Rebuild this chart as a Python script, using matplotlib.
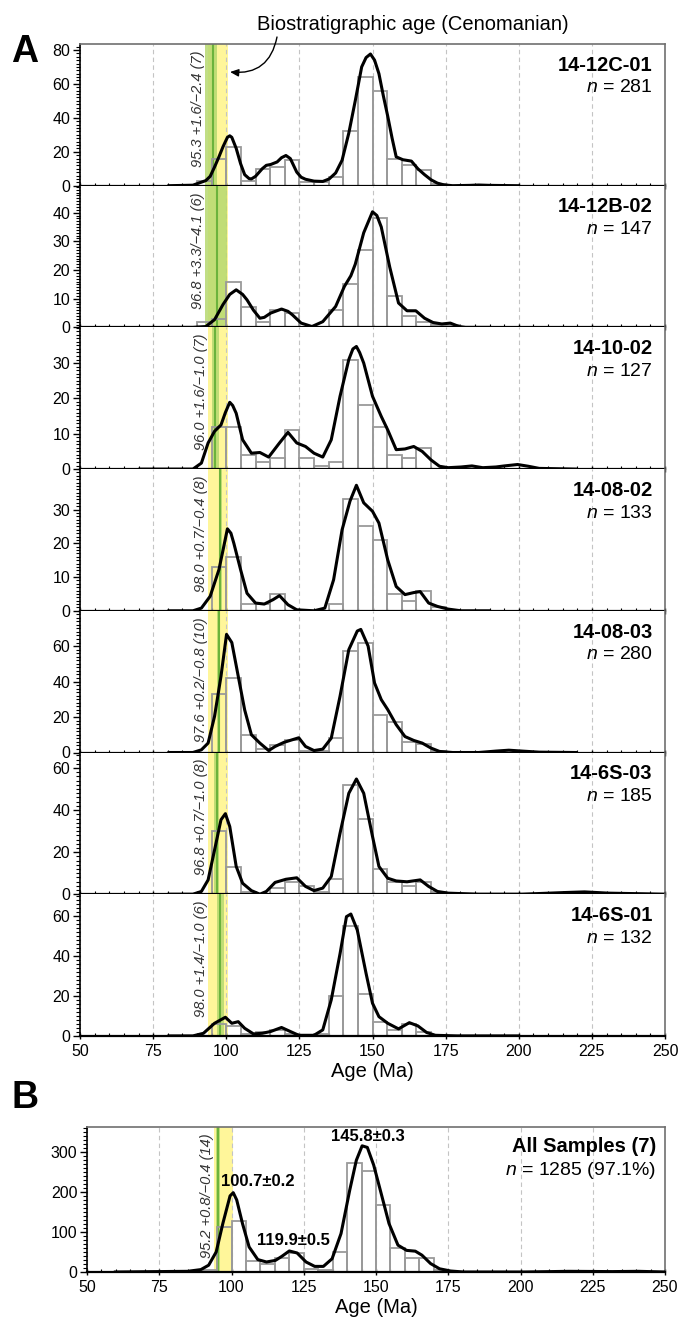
import numpy as np
import matplotlib.pyplot as plt
import matplotlib.transforms as mtransforms
from matplotlib.ticker import MultipleLocator

plt.rcParams['font.family'] = ['Liberation Sans', 'DejaVu Sans']
plt.rcParams['mathtext.fontset'] = 'custom'
plt.rcParams['mathtext.it'] = 'Liberation Sans:italic'
plt.rcParams['mathtext.rm'] = 'Liberation Sans'

# samples, panel A (top to bottom)
samples = ['14-12C-01', '14-12B-02', '14-10-02', '14-08-02', '14-08-03', '14-6S-03', '14-6S-01']
n_grains = [281, 147, 127, 133, 280, 185, 132]

# maximum depositional ages: value, +err, -err, number of grains
mda = [95.3, 96.8, 96.0, 98.0, 97.6, 96.8, 98.0]
mda_plus = [1.6, 3.3, 1.6, 0.7, 0.2, 0.7, 1.4]
mda_minus = [2.4, 4.1, 1.0, 0.4, 0.8, 1.0, 1.0]
mda_count = [7, 6, 7, 8, 10, 8, 6]

# all samples (panel B)
all_n = 1285
all_pct = 97.1
all_mda, all_plus, all_minus, all_count = 95.2, 0.8, 0.4, 14
peak_ages = ['100.7±0.2', '119.9±0.5', '145.8±0.3']

# Cenomanian stage
ceno_lo, ceno_hi = 93.9, 100.5

# histogram bins (5 Ma), left edges 90 ... 175
bin_left = list(range(90, 180, 5))
counts_12c01 = [3, 16, 23, 3, 10, 11, 15, 2, 2, 5, 32, 64, 56, 16, 12, 9, 1, 0]
counts_12b02 = [2, 3, 16, 7, 2, 6, 5, 0, 0, 6, 15, 27, 38, 11, 4, 2, 1, 1]
counts_1002 = [0, 12, 12, 4, 2, 3, 11, 3, 1, 2, 31, 18, 12, 4, 3, 6, 0, 0]
counts_0802 = [0, 13, 16, 2, 2, 5, 0, 0, 0, 2, 33, 25, 21, 5, 3, 6, 1, 0]
counts_0803 = [0, 33, 42, 10, 2, 4, 7, 1, 1, 8, 57, 62, 21, 17, 6, 5, 1, 0]
counts_6s03 = [0, 30, 13, 1, 0, 3, 6, 4, 1, 7, 52, 36, 12, 6, 4, 6, 1, 0]
counts_6s01 = [0, 6, 5, 1, 2, 3, 1, 0, 1, 20, 55, 21, 7, 3, 6, 2, 0, 0]
counts_all = [5, 113, 127, 28, 21, 36, 47, 8, 4, 50, 272, 252, 167, 61, 36, 36, 4, 0]

# KDE curves
age_12c01 = [80.4, 88.6, 93, 94.5, 96, 97.5, 98.9, 100.4, 101.2, 101.9, 103.4, 104.9, 106.3, 107.8,
             108.6, 110, 112.3, 113.7, 115.2, 117.4, 118.9, 120.4, 121.9, 124.1, 125.6, 127.1, 130,
             133, 135.2, 137.4, 139.6, 141.9, 144.1, 146.3, 147.8, 149.3, 150.7, 152.2, 153.7, 155.2,
             156.7, 158.1, 160.4, 163.3, 165.5, 167.8, 170, 172.2, 174.4, 177.4, 183.3, 186.3, 190, 199.6]
kde_12c01 = [0, 0.3, 3, 5.5, 11, 17, 23, 28.5, 29.4, 28.5, 22, 13, 6.5, 4.2,
             4, 5.5, 10, 12, 12.5, 14, 16.5, 17.8, 16, 8, 5, 3.8, 2.7,
             2.5, 4, 7.5, 15, 31, 50, 70, 75.5, 77.6, 74, 66, 53, 41,
             28, 17, 15.3, 14.5, 10, 6.5, 3.5, 1.5, 0.5, 0, 0.2, 0.4, 0.2, 0]

age_12b02 = [80.4, 88.6, 93, 96, 98.9, 101.2, 103.4, 105.6, 107.1, 109.3, 111.5, 113, 115.2, 118.9,
             121.1, 122.6, 125.6, 129.3, 133, 137.4, 140.4, 142.6, 144.1, 147, 150, 151.5, 153,
             155.9, 158.9, 161.8, 164.8, 167.8, 170.7, 173.7, 176.6, 179.6, 181.8, 190]
kde_12b02 = [0, 0, 0.3, 2.7, 8, 11.5, 13.1, 11.5, 9.6, 6, 3.2, 3.5, 5, 6.4,
             5.6, 4.4, 1.5, 0.3, 2, 7.3, 14.3, 18, 22, 33, 40.3, 39, 35,
             21, 8.5, 5.8, 5.8, 3.2, 1.7, 1.2, 1.5, 0.3, 0, 0]

age_1002 = [70.5, 88.6, 91.5, 93.8, 96, 98.2, 99.7, 101.2, 102.2, 103.4, 105.6, 108.6, 111.5, 114.5,
            118.2, 121.1, 124.1, 127.1, 130, 133, 135.9, 138.9, 141.9, 143.3, 144.5, 145.6, 147,
            150, 153, 155.2, 158.1, 161.1, 164.1, 167, 170, 172.9, 175.9, 180.3, 184, 187.7, 192.2,
            195.1, 199.6, 203.3, 207, 219.6]
kde_1002 = [0, 0, 1.7, 7.4, 10.7, 12.5, 16, 18.9, 18, 15.8, 8.3, 4.5, 4.7, 3.4,
            7.4, 10.4, 7.4, 6.4, 4.5, 3.4, 8.3, 20.6, 31, 34, 34.7, 33, 30,
            20.6, 14.9, 11.1, 5.5, 5.7, 6.4, 5, 2.6, 0.8, 0.4, 0.6, 0.9, 0.4, 0.6,
            0.9, 1.3, 0.8, 0.2, 0]

age_0802 = [80.4, 88.6, 91.5, 94.5, 97.5, 98.9, 100.4, 101.6, 102.6, 104.9, 107.1, 110, 113, 116,
            118.2, 121.1, 124.1, 130, 133.7, 136.7, 139.6, 142.3, 144.5, 147, 150, 152.2, 155.2,
            158.1, 161.1, 164.1, 166.3, 169.2, 172.2, 175.9, 180.3, 190]
kde_0802 = [0, 0, 0.8, 4.3, 12.2, 18, 24.3, 23, 20, 12.2, 5.2, 2.3, 2, 3.3,
            4.5, 1.8, 0.3, 0, 0.8, 9.2, 24, 32.5, 37.2, 32, 29.5, 26, 15.1,
            7.2, 4.8, 5.4, 5.7, 2.3, 1.3, 0.5, 0, 0]

age_0803 = [80.4, 88.6, 91.5, 93.8, 96, 98.2, 100.1, 101.9, 104.1, 106.3, 108.6, 111.5, 114.5, 116.7,
            119.7, 122.6, 124.8, 127.1, 130, 133, 135.9, 138.9, 141.9, 144.8, 146, 148.5, 150.7,
            153, 155.2, 158.1, 161.1, 164.1, 167, 170, 172.9, 177.4, 186.3, 192.2, 196.6, 201.1,
            207, 219.6]
kde_0803 = [0, 0, 1.5, 5.3, 20.4, 43, 66.6, 62, 43, 24, 10, 5.3, 1.1, 3.4,
            5.7, 7.2, 8.3, 3.4, 1.1, 1.9, 8.1, 31.7, 58, 68.5, 69.4, 60, 39.2,
            29.8, 24.2, 15.7, 9, 6.8, 5.3, 2.5, 0.6, 0, 0, 0.8, 1.3, 0.8,
            0.2, 0]

age_6s03 = [80.4, 88.6, 91.5, 93.8, 96, 98.2, 99.7, 101.2, 103.4, 105.6, 108.6, 111.5, 113.7, 116.7,
            120.4, 124.1, 127.1, 130, 133, 135.9, 138.9, 141.9, 144.5, 147, 150, 152.2, 155.2,
            158.1, 161.8, 166.3, 169.2, 172.2, 175.9, 186.3, 201.1, 215.9, 222.5, 230.7, 242.5, 249.6]
kde_6s03 = [0, 0, 1.3, 6.8, 21, 35.4, 38.3, 32.2, 13.2, 5.2, 1.7, 0, 1.3, 5.6,
            7.1, 7.8, 3.7, 1.7, 2.9, 8.4, 29, 48, 54.8, 48, 27.5, 13.2, 7.6,
            6.3, 5.9, 6.8, 3.7, 1.3, 0.5, 0, 0, 0.8, 1.1, 0.5, 0.2, 0]

age_6s01 = [80.4, 88.6, 92.2, 96, 99.7, 101.9, 104.1, 106.3, 109.3, 112.3, 115.2, 118.9, 121.9, 124.8,
            130, 133, 135.9, 138.9, 141.1, 142.6, 144.8, 147.8, 150, 152.2, 155.2, 158.9, 162.6,
            165.5, 168.5, 171.5, 178.9, 199.6]
kde_6s01 = [0, 0, 1.3, 6.3, 9.3, 6.3, 7.1, 3.8, 1, 1.3, 2.2, 4.2, 2.2, 0.3,
            0.3, 3, 18, 41, 59.5, 60.8, 52.8, 31.2, 16.3, 9.6, 6.3, 3.5, 6.6,
            5, 1.7, 0.3, 0, 0]

age_all = [59.8, 84.8, 89.4, 92.1, 94.7, 97, 99.5, 100.6, 101.8, 103.8, 106.1, 109.1, 112.1, 115.2,
           117.4, 120, 122.7, 125.8, 128.8, 131.8, 134.8, 137.9, 140.9, 143.2, 145.2, 147, 149.2,
           151.5, 154.5, 157.6, 160.6, 163.6, 165.9, 168.9, 172, 175.8, 180.3, 201.5, 216.7, 231.8,
           240.9, 250]
kde_all = [0, 1.7, 6, 17, 50, 121, 190, 198, 180, 121, 62.5, 31, 25, 29,
           39, 52.5, 47.5, 25, 14, 14, 33, 96, 204, 279, 315, 311, 267,
           204, 121, 67, 54, 52, 42, 21, 8, 2.5, 0, 0, 1.7, 1,
           1.7, 0]

counts = [counts_12c01, counts_12b02, counts_1002, counts_0802, counts_0803, counts_6s03, counts_6s01]
ages = [age_12c01, age_12b02, age_1002, age_0802, age_0803, age_6s03, age_6s01]
kdes = [kde_12c01, kde_12b02, kde_1002, kde_0802, kde_0803, kde_6s03, kde_6s01]
ymax = [83.5, 49.4, 40.1, 42, 79.9, 67.4, 70.7]
ystep = [20, 10, 10, 10, 20, 20, 20]
ytop_label = [80, 40, 30, 30, 60, 60, 60]

W, H = 682, 1321
fig = plt.figure(figsize=(W / 100, H / 100), dpi=100)

YELLOW = '#fff69a'
GREEN = '#b6d970'
GREEN_LINE = '#6cb33c'


def style_axes(ax, yt, ylim_top, step, show_top=True):
    ax.set_xlim(50, 250)
    ax.set_ylim(0, ylim_top)
    ax.set_xticks(range(50, 251, 25))
    ax.xaxis.set_minor_locator(MultipleLocator(5))
    ax.set_yticks(yt)
    ax.yaxis.set_minor_locator(MultipleLocator(step / 10))
    ax.grid(axis='x', color='#c4c4c4', lw=0.8, ls=(0, (4, 3)))
    ax.set_axisbelow(True)
    ax.tick_params(axis='y', which='major', direction='out', length=5, width=1, labelsize=11.5, pad=2)
    ax.tick_params(axis='y', which='minor', direction='out', length=3, width=0.8)
    ax.tick_params(axis='x', which='major', direction='inout', length=5, width=1, labelsize=11.5)
    ax.tick_params(axis='x', which='minor', direction='in', length=2.5, width=0.8)
    ax.spines['left'].set_color('black')
    ax.spines['left'].set_linewidth(1.2)
    ax.spines['bottom'].set_color('black')
    ax.spines['bottom'].set_linewidth(1.6)
    ax.spines['right'].set_color('#707070')
    ax.spines['right'].set_linewidth(1.2)
    ax.spines['top'].set_color('#707070')
    ax.spines['top'].set_linewidth(1.2)
    ax.spines['top'].set_visible(show_top)


def draw_panel(ax, cnt, age, kde, m, p, q, k):
    trans = mtransforms.blended_transform_factory(ax.transData, ax.transAxes)
    ax.axvspan(ceno_lo, ceno_hi, color=YELLOW, lw=0, zorder=0.5)
    ax.axvspan(m - q, m + p, color=GREEN, alpha=0.85, lw=0, zorder=0.6)
    ax.axvline(m, color=GREEN_LINE, lw=1.5, zorder=0.7)
    ax.bar(bin_left, cnt, width=5, align='edge', fill=False, edgecolor='#9a9a9a', lw=1.3, zorder=2)
    ax.plot(age, kde, color='black', lw=2.2, zorder=3, solid_joinstyle='round')
    label = f'{m:.1f} +{p:.1f}/\u2212{q:.1f} ({k})'
    ax.text(min(ceno_lo, m - q), 0.955, label, transform=trans, rotation=90, ha='right', va='top',
            fontsize=10.5, style='italic', color='#333333', zorder=4)


# panel A
top0, ph = 44, 141.7
axes = []
for i in range(7):
    bottom_px = top0 + (i + 1) * ph
    ax = fig.add_axes([80 / W, 1 - bottom_px / H, 585 / W, ph / H])
    step = ystep[i]
    yt = list(range(0, ytop_label[i] + 1, step))
    style_axes(ax, yt, ymax[i], step, show_top=(i == 0))
    draw_panel(ax, counts[i], ages[i], kdes[i], mda[i], mda_plus[i], mda_minus[i], mda_count[i])
    ax.text(0.979, 0.85, samples[i], transform=ax.transAxes, ha='right', va='center',
            fontsize=14.5, fontweight='bold')
    ax.text(0.979, 0.69, f'$n$ = {n_grains[i]}', transform=ax.transAxes, ha='right', va='center',
            fontsize=14)
    if i < 6:
        ax.tick_params(axis='x', labelbottom=False)
    else:
        ax.set_xlabel('Age (Ma)', fontsize=14.5, labelpad=2)
    axes.append(ax)

# panel B
axb = fig.add_axes([87 / W, 1 - 1272 / H, 578 / W, 145 / H])
style_axes(axb, [0, 100, 200, 300], 362, 100)
draw_panel(axb, counts_all, age_all, kde_all, all_mda, all_plus, all_minus, all_count)
axb.set_xlabel('Age (Ma)', fontsize=14.5, labelpad=2)
axb.text(0.984, 0.864, 'All Samples (7)', transform=axb.transAxes, ha='right', va='center',
         fontsize=14.5, fontweight='bold')
axb.text(0.984, 0.703, f'$n$ = {all_n} ({all_pct}%)', transform=axb.transAxes, ha='right',
         va='center', fontsize=14)
axb.text(109.2, 225, peak_ages[0], ha='center', va='center', fontsize=12, fontweight='bold', zorder=5)
axb.text(121.6, 78, peak_ages[1], ha='center', va='center', fontsize=12, fontweight='bold', zorder=5)
axb.text(147.2, 338, peak_ages[2], ha='center', va='center', fontsize=12, fontweight='bold', zorder=5)

# panel letters and annotation
fig.text(24.5 / W, 1 - 51.5 / H, 'A', fontsize=27, fontweight='bold', ha='center', va='center')
fig.text(25 / W, 1 - 1098 / H, 'B', fontsize=27, fontweight='bold', ha='center', va='center')
fig.text(413 / W, 1 - 24 / H, 'Biostratigraphic age (Cenomanian)', fontsize=14.5,
         ha='center', va='center')
axes[0].annotate('', xy=(101.3, 67), xycoords='data',
                 xytext=(277 / W, 1 - 37 / H), textcoords='figure fraction',
                 arrowprops=dict(arrowstyle='-|>,head_length=0.5,head_width=0.22', color='black',
                                 lw=1, connectionstyle='arc3,rad=-0.45', shrinkA=0, shrinkB=0),
                 annotation_clip=False, zorder=6)

fig.savefig('out.png', dpi=100)
